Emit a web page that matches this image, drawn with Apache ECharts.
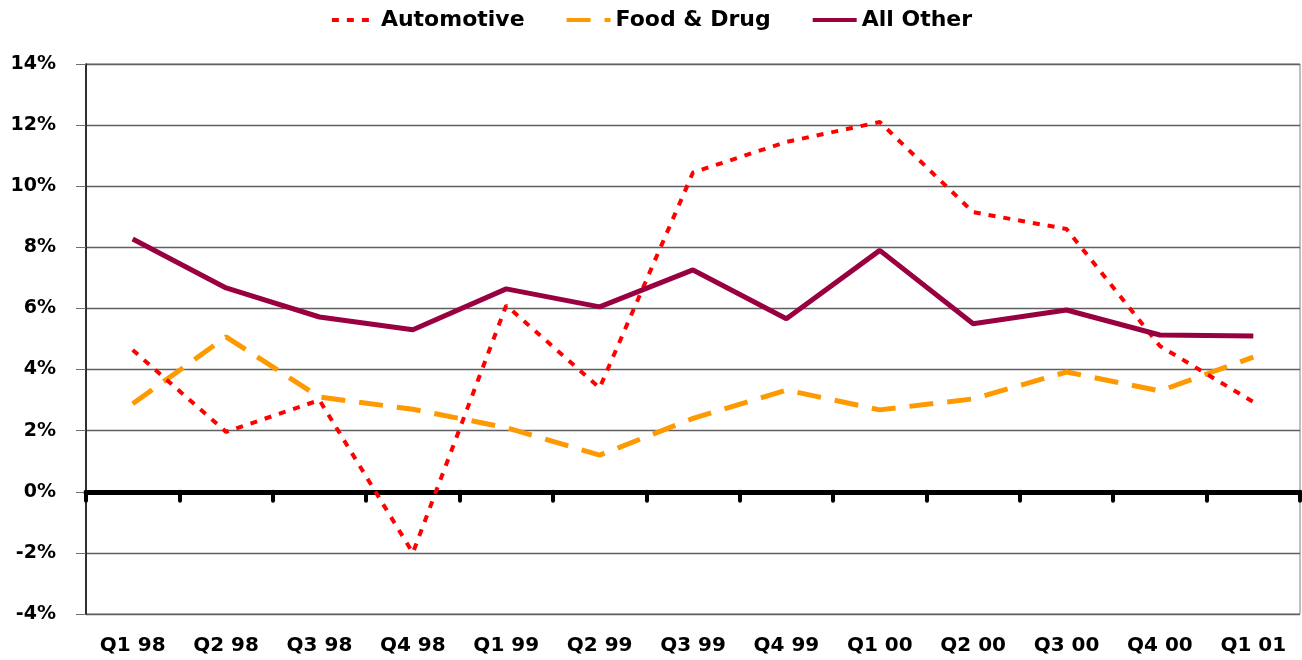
<!DOCTYPE html>
<html>
<head>
<meta charset="utf-8">
<script src="https://cdn.jsdelivr.net/npm/echarts@6/dist/echarts.min.js"></script>
<style>
html,body{margin:0;padding:0;background:#fff;}
#chart{width:1302px;height:660px;}
</style>
</head>
<body>
<div id="chart"></div>
<script>
var categories = ['Q1 98','Q2 98','Q3 98','Q4 98','Q1 99','Q2 99','Q3 99','Q4 99','Q1 00','Q2 00','Q3 00','Q4 00','Q1 01'];
var automotive = [4.64, 1.96, 3.0, -2.0, 6.1, 3.4, 10.45, 11.45, 12.1, 9.15, 8.6, 4.77, 2.94];
var foodDrug   = [2.88, 5.07, 3.1, 2.7, 2.1, 1.2, 2.4, 3.33, 2.68, 3.04, 3.92, 3.3, 4.41];
var allOther   = [8.27, 6.67, 5.72, 5.3, 6.64, 6.05, 7.26, 5.66, 7.9, 5.5, 5.95, 5.13, 5.1];
var seriesNames = ['Automotive', 'Food & Drug', 'All Other'];

var FONT = 'DejaVu Sans';
var chart = echarts.init(document.getElementById('chart'));
chart.setOption({
  animation: false,
  backgroundColor: '#ffffff',
  legend: {
    top: 4,
    left: 'center',
    itemWidth: 44,
    itemHeight: 14,
    itemGap: 40,
    itemStyle: {opacity: 0},
    lineStyle: {width: 4},
    textStyle: {fontFamily: FONT, fontWeight: 'bold', fontSize: 22, color: '#000'},
    data: seriesNames
  },
  grid: {
    left: 86, right: 2, top: 64, bottom: 46,
    show: true, borderColor: '#808080', borderWidth: 1,
    containLabel: false
  },
  xAxis: [{
    type: 'category',
    data: categories,
    position: 'bottom',
    boundaryGap: true,
    axisLine: {onZero: false, show: false},
    axisTick: {show: false},
    axisLabel: {fontFamily: FONT, fontWeight: 'bold', fontSize: 20, color: '#000', margin: 22},
    splitLine: {show: false}
  }, {
    type: 'category',
    data: categories,
    position: 'bottom',
    boundaryGap: true,
    axisLine: {onZero: true, show: true, lineStyle: {color: '#000', width: 5}},
    axisTick: {show: true, inside: false, length: 9, lineStyle: {color: '#000', width: 4, cap: 'round'}},
    axisLabel: {show: false},
    splitLine: {show: false}
  }],
  yAxis: {
    type: 'value',
    min: -4, max: 14, interval: 2,
    axisLine: {show: true, onZero: false, lineStyle: {color: '#000', width: 1.5}},
    axisTick: {show: true, length: 10, lineStyle: {color: '#707070', width: 1}},
    axisLabel: {
      fontFamily: FONT, fontWeight: 'bold', fontSize: 19, color: '#000', margin: 30,
      formatter: function (v) { return v + '%'; }
    },
    splitLine: {show: true, lineStyle: {color: '#606060', width: 1.3}}
  },
  series: [{
    name: seriesNames[0], type: 'line', data: automotive, xAxisIndex: 0,
    symbol: 'none', z: 3,
    itemStyle: {color: '#ff0000'},
    lineStyle: {color: '#ff0000', width: 4, type: [7, 8]}
  }, {
    name: seriesNames[1], type: 'line', data: foodDrug, xAxisIndex: 0,
    symbol: 'none', z: 2,
    itemStyle: {color: '#ff9900'},
    lineStyle: {color: '#ff9900', width: 5, type: [24, 14]}
  }, {
    name: seriesNames[2], type: 'line', data: allOther, xAxisIndex: 0,
    symbol: 'none', z: 4,
    itemStyle: {color: '#990040'},
    lineStyle: {color: '#990040', width: 5}
  }]
});
</script>
</body>
</html>
